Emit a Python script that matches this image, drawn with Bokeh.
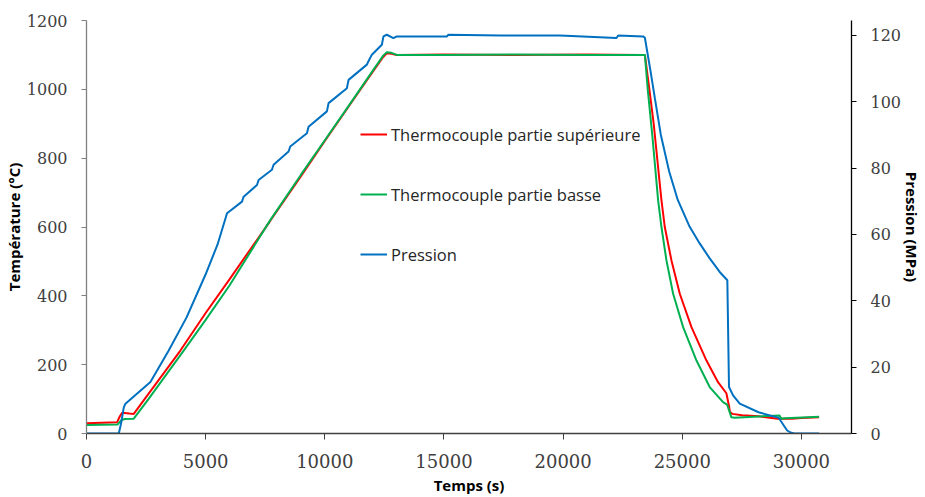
from bokeh.plotting import figure
from bokeh.models import Range1d, LinearAxis, FixedTicker, Legend, LegendItem
from bokeh.embed import file_html
from bokeh.resources import INLINE

# ---- data ----
t_sup = [0, 1285, 1400, 1495, 1800, 1983, 2600, 3940, 5000, 6000, 7711, 9000, 10000,
         11000, 12000, 12450, 12600, 12800, 13020, 15000, 18000, 21000, 23350, 23430,
         23600, 23800, 24125, 24265, 24545, 24895, 25385, 26014, 26500, 26850, 26960,
         27000, 27100, 27500, 28200, 29000, 29600, 30000, 30740]
T_sup = [30, 33, 50, 60, 58, 57, 115, 241, 350, 448, 618, 748, 850,
         950, 1050, 1094, 1105, 1103, 1100, 1101, 1100, 1101, 1100, 1100,
         1010, 900, 678, 600, 503, 406, 309, 212, 149, 117, 80,
         62, 57, 53, 50, 43, 43, 45, 47]

t_bas = [0, 1300, 1450, 1600, 1983, 2600, 4078, 5000, 6000, 7711, 9000, 10000, 11000,
         12000, 12450, 12600, 12800, 13020, 15000, 18000, 21000, 23350, 23430, 23550,
         23750, 23985, 24125, 24335, 24615, 25035, 25595, 26150, 26710, 26880, 27000,
         27060, 27200, 28000, 29085, 29155, 29300, 29800, 30740]
T_bas = [25, 26, 38, 42, 43, 100, 241, 330, 430, 620, 752, 852, 952,
         1053, 1098, 1108, 1106, 1100, 1100, 1101, 1100, 1100, 1100, 1000,
         860, 678, 600, 503, 406, 309, 212, 135, 91, 84, 60,
         47, 46, 49, 52, 43, 44, 46, 49]

t_pres = [0, 1355, 1450, 1565, 1634, 2682, 3450, 4200, 5000, 5500, 5897, 6525, 6594,
          7153, 7222, 7781, 7850, 8479, 8549, 9249, 9318, 10088, 10158, 10927, 10996,
          11765, 11832, 11974, 12184, 12393, 12461, 12601, 12880, 13021, 15117, 15187,
          17400, 19865, 22240, 22310, 23356, 23430, 23650, 23850, 24100, 24450, 24810,
          25310, 25730, 26150, 26570, 26890, 26960, 27130, 27410, 28200, 29050, 29120,
          29400, 29540, 29700, 30740]
P_pres = [0, 0, 3, 7.9, 9, 15.5, 25, 35, 48, 57, 66.4, 69.9, 71.4,
          74.9, 76.4, 79.5, 81.0, 85.0, 86.5, 90.5, 92.5, 97.1, 99.6, 104.1, 106.6,
          111.2, 112.2, 114.2, 115.7, 117.2, 119.7, 120.2, 119.2, 119.7, 119.7, 120.2,
          120.0, 120.0, 119.2, 120.0, 119.7, 119.3, 110, 101, 90, 79, 70.4,
          62.3, 57.3, 52.8, 48.7, 46.2, 14, 11.5, 9, 6.4, 4.7, 3.9,
          0.9, 0.3, 0, 0]

x_ticks = [0, 5000, 10000, 15000, 20000, 25000, 30000]
temp_ticks = [0, 200, 400, 600, 800, 1000, 1200]
pres_ticks = [0, 20, 40, 60, 80, 100, 120]

labels = ["Thermocouple partie supérieure", "Thermocouple partie basse", "Pression"]
colors = ["#FF0000", "#00B050", "#0070C0"]

# ---- figure ----
W, H = 925, 497
FL, FR, FT, FB = 86, 852, 20, 433   # frame edges in page pixels
p = figure(width=W, height=H, output_backend="svg", toolbar_location=None,
           x_range=Range1d(0, 32100), y_range=Range1d(0, 1200),
           min_border_left=FL, min_border_right=W - FR, min_border_top=FT,
           min_border_bottom=H - FB)
p.extra_y_ranges = {"pres": Range1d(0, 124.5)}
p.outline_line_color = None
p.xgrid.visible = False
p.ygrid.visible = False
p.background_fill_color = "white"
p.border_fill_color = "white"

tick_font = "DejaVu Serif"
title_font = "Open Sans"

r_sup = p.line(t_sup, T_sup, line_color=colors[0], line_width=2)
r_bas = p.line(t_bas, T_bas, line_color=colors[1], line_width=2)
r_pres = p.line(t_pres, P_pres, line_color=colors[2], line_width=2, y_range_name="pres")

xa = p.xaxis[0]
xa.ticker = FixedTicker(ticks=x_ticks)
xa.axis_label = "Temps (s)"
yl = p.yaxis[0]
yl.ticker = FixedTicker(ticks=temp_ticks)
yl.axis_label = "Température (°C)"

ra = LinearAxis(y_range_name="pres", ticker=FixedTicker(ticks=pres_ticks),
                axis_label="Pression (MPa)")
p.add_layout(ra, "right")

for ax, col in ((xa, "#404040"), (yl, "#7F7F7F"), (ra, "#000000")):
    ax.axis_line_color = col
    ax.axis_line_width = 1.3
    ax.major_tick_line_color = col
    ax.major_tick_out = 5
    ax.major_tick_in = 0
    ax.minor_tick_line_color = None
    ax.major_label_text_font = tick_font
    ax.major_label_text_font_size = "16px"
    ax.major_label_text_color = "#404040"
    ax.axis_label_text_font = title_font
    ax.axis_label_text_font_style = "bold"
    ax.axis_label_text_font_size = "15px"
    ax.axis_label_text_color = "#000000"
    ax.axis_label_standoff = 0

xa.major_tick_out = 6
xa.major_label_text_font_size = "18px"
xa.major_label_standoff = 14
xa.axis_label_standoff = 4
yl.major_label_standoff = 14
ra.major_label_standoff = 14
ra.axis_label_standoff = -2

legend = Legend(items=[LegendItem(label=labels[0], renderers=[r_sup]),
                       LegendItem(label=labels[1], renderers=[r_bas]),
                       LegendItem(label=labels[2], renderers=[r_pres])],
                location=(274, 166.7))
legend.padding = 0
legend.margin = 0
legend.border_line_color = None
legend.background_fill_alpha = 0
legend.glyph_width = 27
legend.glyph_height = 24
legend.label_height = 24
legend.spacing = 36
legend.label_standoff = 4
legend.label_text_font = title_font
legend.label_text_font_size = "16.5px"
legend.label_text_color = "#262626"
p.add_layout(legend, "center")

open("out.html", "w").write(file_html(p, INLINE))
